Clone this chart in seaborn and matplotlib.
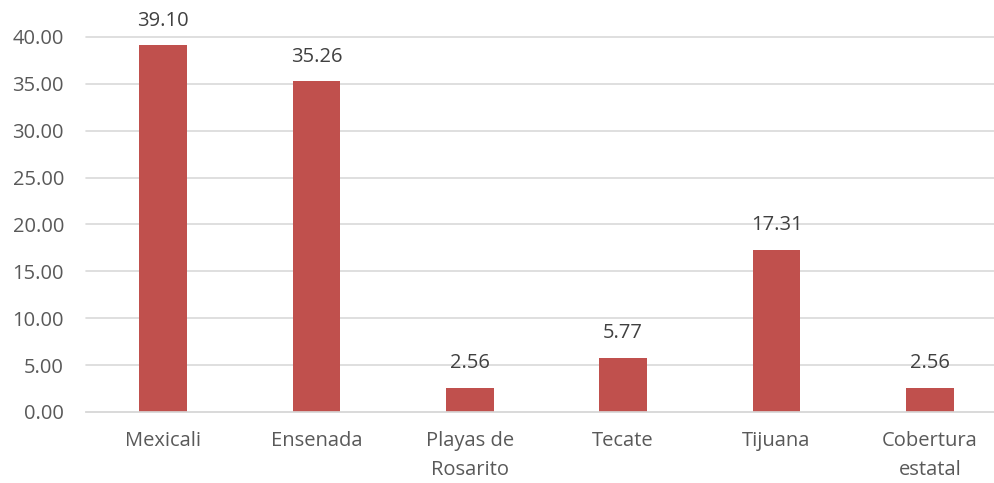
import numpy as np
import pandas as pd
import seaborn as sns
import matplotlib.pyplot as plt

# values
municipios = ['Mexicali', 'Ensenada', 'Playas de\nRosarito', 'Tecate', 'Tijuana', 'Cobertura\nestatal']
porcentaje = [39.10, 35.26, 2.56, 5.77, 17.31, 2.56]
yticks = [0, 5, 10, 15, 20, 25, 30, 35, 40]

df = pd.DataFrame({'municipio': municipios, 'porcentaje': porcentaje})

sns.set_theme(style='white')
plt.rcParams['font.family'] = ['Open Sans', 'DejaVu Sans']

fig = plt.figure(figsize=(9.95, 4.83), dpi=100)
ax = fig.add_axes([0.0867, 0.147, 0.925, 0.7764])

sns.barplot(data=df, x='municipio', y='porcentaje', color='#C0504D',
            width=0.31, saturation=1, linewidth=0, ax=ax)

for i, v in enumerate(porcentaje):
    ax.annotate(f'{v:.2f}', (i, v), xytext=(0, 10.5), textcoords='offset points',
                ha='center', va='bottom', fontsize=14.5, color='#404040')

ax.set_ylim(0, 40)
ax.set_yticks(yticks)
ax.set_yticklabels([f'{t:.2f}' for t in yticks])
ax.yaxis.grid(True, color='#D9D9D9', linewidth=1.2)
for gl in ax.get_ygridlines():
    gl.set_clip_on(False)
ax.set_axisbelow(True)
ax.set_xlabel('')
ax.set_ylabel('')
for s in ['top', 'right', 'left']:
    ax.spines[s].set_visible(False)
ax.spines['bottom'].set_color('#D9D9D9')
ax.spines['bottom'].set_linewidth(1.2)
ax.tick_params(axis='both', length=0, labelsize=14.5, colors='#595959')
ax.tick_params(axis='x', pad=14)
ax.tick_params(axis='y', pad=16)
for lab in ax.get_xticklabels():
    lab.set_linespacing(1.6)
ax.set_xlim(-0.5, 5.5)

fig.savefig('out.png', dpi=100)
